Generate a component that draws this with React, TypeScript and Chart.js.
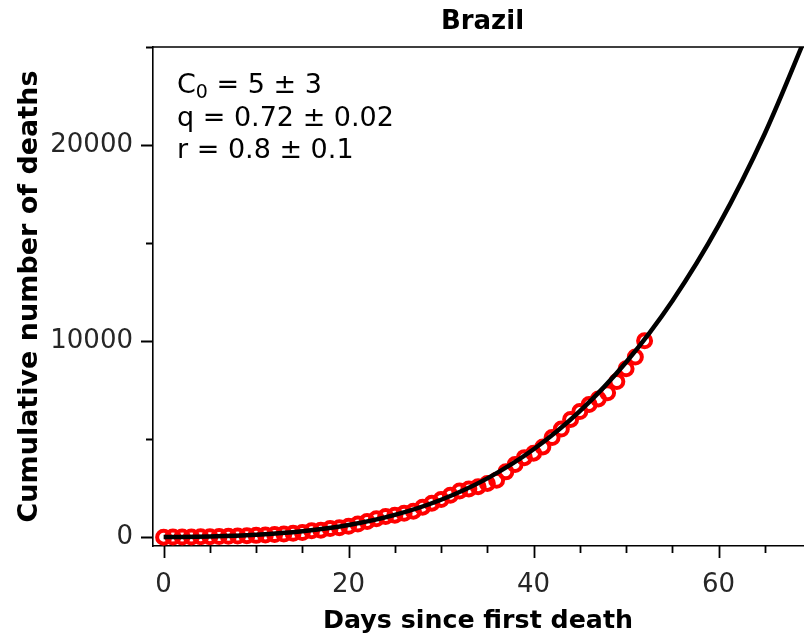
import { useEffect, useRef } from "react";
import { Chart, registerables } from "chart.js";

Chart.register(...registerables);

const days = [
  0, 1, 2, 3, 4, 5, 6, 7, 8, 9, 10, 11, 12, 13, 14, 15, 16, 17, 18, 19, 20, 21, 22, 23, 24, 25, 26,
  27, 28, 29, 30, 31, 32, 33, 34, 35, 36, 37, 38, 39, 40, 41, 42, 43, 44, 45, 46, 47, 48, 49, 50, 51, 52,
];
const deaths = [
  1, 4, 7, 11, 18, 25, 34, 46, 59, 77, 92, 114, 136, 159, 201, 240, 324, 359, 445, 486, 553, 667, 800,
  941, 1056, 1124, 1223, 1328, 1532, 1736, 1924, 2141, 2354, 2462, 2575, 2741, 2906, 3331, 3704, 4057,
  4286, 4603, 5083, 5513, 6006, 6412, 6761, 7051, 7367, 7938, 8588, 9190, 10017,
];

// Fitted curve
const fitDays = [0, 5, 10, 15, 20, 25, 30, 35, 40, 45, 50, 55, 60, 65, 70];
const fitValues = [5, 34, 119, 298, 619, 1136, 1909, 3000, 4483, 6430, 8925, 12050, 15900, 20590, 26170];

const xMajorTicks = [0, 20, 40, 60];
const xMinorTicks = [5, 10, 15, 25, 30, 35, 45, 50, 55, 65, 70];
const yMajorTicks = [0, 10000, 20000];
const yMinorTicks = [5000, 15000, 25000];

const titleText = "Brazil";
const xTitle = "Days since first death";
const yTitle = "Cumulative number of deaths";
const annC0 = ["C", "0", " = 5 ± 3"];
const annLines = ["q = 0.72 ± 0.02", "r = 0.8 ± 0.1"];

const FONT = '"DejaVu Sans", sans-serif';

const decor = {
  id: "decor",
  afterDraw(chart: any) {
    const ctx = chart.ctx as CanvasRenderingContext2D;
    const { left, right, top, bottom } = chart.chartArea;
    const xs = chart.scales.x;
    const ys = chart.scales.y;
    ctx.save();
    ctx.strokeStyle = "#000";
    ctx.lineWidth = 1.6;
    ctx.beginPath();
    ctx.moveTo(left, top);
    ctx.lineTo(right, top);
    ctx.moveTo(right, top);
    ctx.lineTo(right, bottom);
    ctx.stroke();

    ctx.lineWidth = 1.8;
    ctx.beginPath();
    for (const v of xMajorTicks) {
      const p = Math.round(xs.getPixelForValue(v)) + 0.5;
      ctx.moveTo(p, bottom);
      ctx.lineTo(p, bottom + 12);
    }
    for (const v of xMinorTicks) {
      const p = Math.round(xs.getPixelForValue(v)) + 0.5;
      ctx.moveTo(p, bottom);
      ctx.lineTo(p, bottom + 7);
    }
    for (const v of yMajorTicks) {
      const p = Math.round(ys.getPixelForValue(v)) + 0.5;
      ctx.moveTo(left, p);
      ctx.lineTo(left - 12, p);
    }
    for (const v of yMinorTicks) {
      const p = Math.round(ys.getPixelForValue(v)) + 0.5;
      ctx.moveTo(left, p);
      ctx.lineTo(left - 7, p);
    }
    ctx.stroke();

    ctx.fillStyle = "#000";
    ctx.textBaseline = "alphabetic";
    // title
    ctx.font = `bold 26px ${FONT}`;
    ctx.textAlign = "center";
    ctx.fillText(titleText, (left + right) / 2, 29);
    // x title
    ctx.font = `bold 25.3px ${FONT}`;
    ctx.fillText(xTitle, 478, 628);
    // y title
    ctx.save();
    ctx.translate(37, (top + bottom) / 2);
    ctx.rotate(-Math.PI / 2);
    ctx.font = `bold 27px ${FONT}`;
    ctx.fillText(yTitle, 0, 0);
    ctx.restore();

    // annotation
    ctx.textAlign = "left";
    const ax = 177;
    ctx.font = `27px ${FONT}`;
    ctx.fillText(annC0[0], ax, 93);
    let cx = ax + ctx.measureText(annC0[0]).width;
    ctx.font = `19px ${FONT}`;
    ctx.fillText(annC0[1], cx, 98);
    cx += ctx.measureText(annC0[1]).width;
    ctx.font = `27px ${FONT}`;
    ctx.fillText(annC0[2], cx, 93);
    annLines.forEach((t, i) => ctx.fillText(t, ax, 125.5 + i * 32.5));
    ctx.restore();
  },
};

const zeroPad = (s: any) => {
  s.paddingLeft = 0;
  s.paddingRight = 0;
  s.paddingTop = 0;
  s.paddingBottom = 0;
};

export default function App() {
  const ref = useRef<HTMLCanvasElement>(null);
  useEffect(() => {
    if (!ref.current) return;
    const chart = new Chart(ref.current, {
      type: "line",
      data: {
        datasets: [
          {
            label: "fit",
            data: fitDays.map((d, i) => ({ x: d, y: fitValues[i] })),
            borderColor: "#000",
            borderWidth: 4.5,
            pointRadius: 0,
            cubicInterpolationMode: "monotone",
            fill: false,
            order: 0,
          },
          {
            label: "deaths",
            data: days.map((d, i) => ({ x: d, y: deaths[i] })),
            showLine: false,
            pointRadius: 6.5,
            pointBorderWidth: 4,
            borderColor: "#ff0000",
            pointBorderColor: "#ff0000",
            backgroundColor: "rgba(0,0,0,0)",
            pointBackgroundColor: "rgba(0,0,0,0)",
            order: 1,
          },
        ],
      },
      options: {
        responsive: false,
        animation: false,
        devicePixelRatio: 1,
        layout: { autoPadding: false, padding: { top: 47, left: 0, right: 0, bottom: 0 } },
        plugins: { legend: { display: false }, tooltip: { enabled: false }, title: { display: false } },
        scales: {
          x: {
            type: "linear",
            min: -1.15,
            max: 70.1,
            grid: { display: false, drawTicks: false },
            border: { display: true, color: "#000", width: 1.6 },
            ticks: {
              font: { family: FONT, size: 26 },
              color: "#262626",
              padding: 24,
              maxRotation: 0,
              callback: (v: any) => String(v),
            },
            afterBuildTicks: (s: any) => {
              s.ticks = xMajorTicks.map((v) => ({ value: v }));
            },
            afterFit: (s: any) => {
              s.height = 90;
              zeroPad(s);
            },
          },
          y: {
            type: "linear",
            min: -450,
            max: 25000,
            grid: { display: false, drawTicks: false },
            border: { display: true, color: "#000", width: 1.6 },
            ticks: {
              font: { family: FONT, size: 26 },
              color: "#262626",
              padding: 20,
              callback: (v: any) => String(v),
            },
            afterBuildTicks: (s: any) => {
              s.ticks = yMajorTicks.map((v) => ({ value: v }));
            },
            afterFit: (s: any) => {
              s.width = 153;
              zeroPad(s);
            },
          },
        },
      },
      plugins: [decor],
    });
    return () => chart.destroy();
  }, []);
  return (
    <div style={{ position: "absolute", left: 0, top: 0, width: 804, height: 636, overflow: "hidden", background: "#fff" }}>
      <canvas ref={ref} width={812} height={636} style={{ display: "block" }} />
    </div>
  );
}
